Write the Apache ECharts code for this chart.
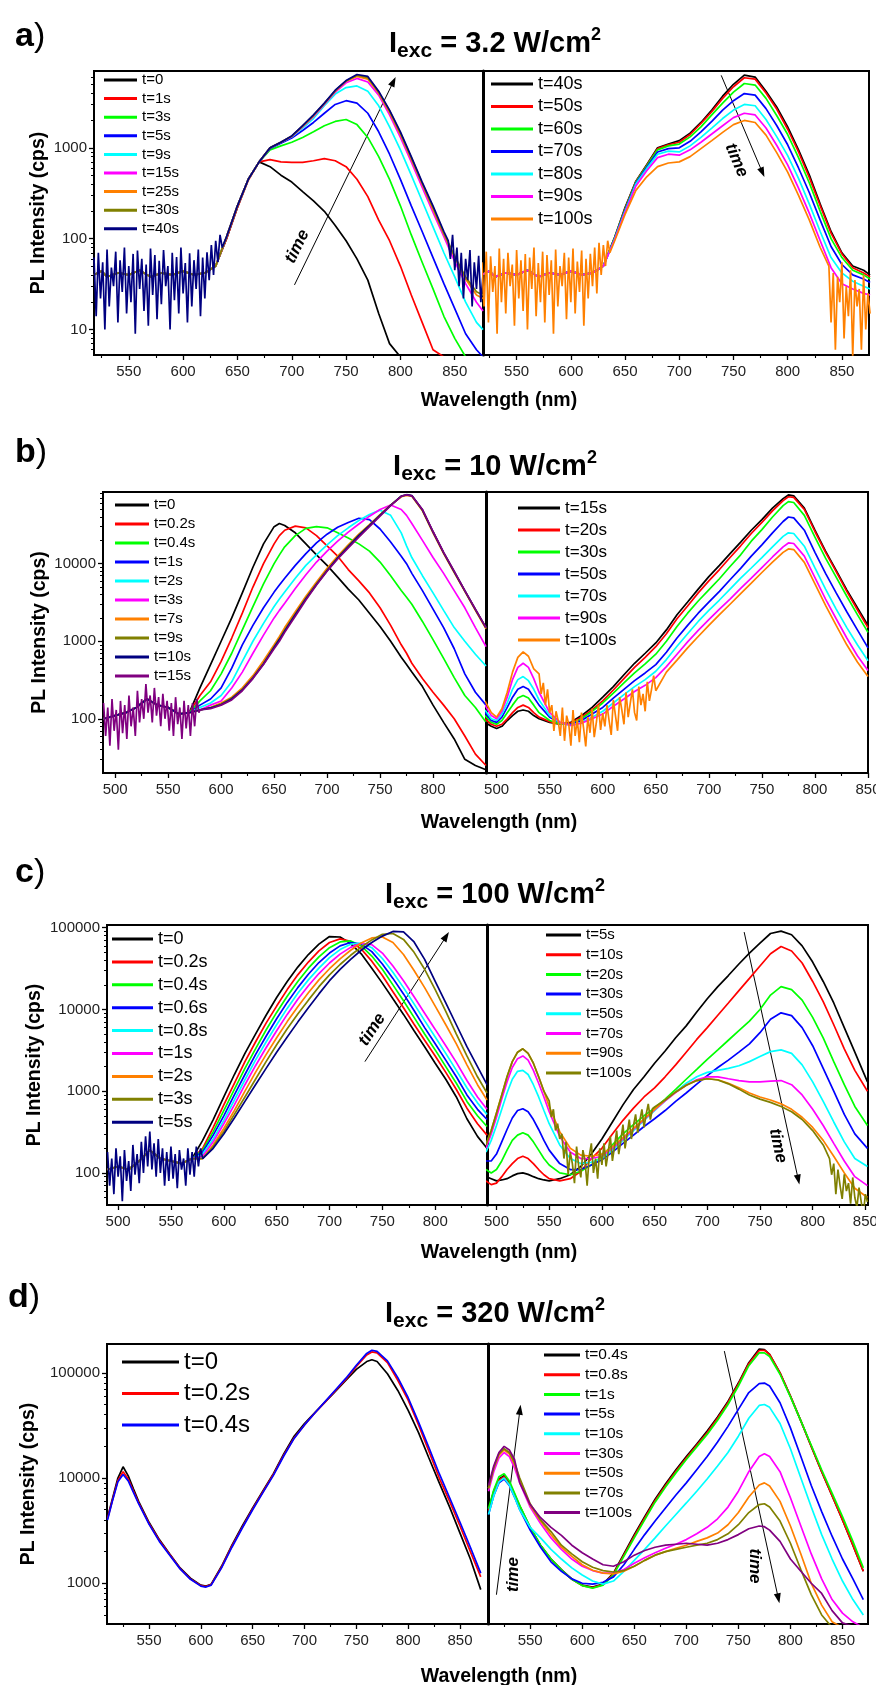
<!DOCTYPE html>
<html>
<head>
<meta charset="utf-8">
<script src="https://cdn.jsdelivr.net/npm/echarts@6/dist/echarts.min.js"></script>
<style>html,body{margin:0;padding:0;background:#fff}#chart{width:876px;height:1685px}</style>
</head>
<body>
<div id="chart"></div>
<script>
// ------------------------------------------------------------------ DATA
// tick labels (nm)
const xTicks550 = [550, 600, 650, 700, 750, 800, 850];
const xTicks500L = [500, 550, 600, 650, 700, 750, 800];
const xTicks500R = [500, 550, 600, 650, 700, 750, 800, 850];
const excIntensity = ['3.2', '10', '100', '320'];

// ---- panel a (3.2 W/cm2)
const waveA = [518,525,530,540,550,560,570,580,590,600,610,620,630,640,650,660,670,680,690,700,710,720,730,740,750,760,770,780,790,800,810,820,830,840,850,860,870,876];
const baseA = [40,44,38,42,40,45,38,42,40,44,40,42,50];
const aL_t0  = [...baseA, 100,220,450,700,620,500,420,330,260,200, 140,95,60,35,15,7,5,5,5,5, 5,5,5,5,5];
const aL_t1  = [...baseA, 100,220,440,700,740,700,690,690,720,760, 720,620,450,290,160,95,50,24,12,6, 5,5,5,5,5];
const aL_t3  = [...baseA, 105,230,450,700,950,1050,1150,1300,1500,1750, 1950,2050,1800,1300,800,450,230,110,55,28, 14,8,5,5,5];
const aL_t5  = [...baseA, 105,230,450,700,980,1120,1280,1550,1900,2400, 3000,3300,3100,2400,1500,850,450,230,120,62, 32,17,9,6,5];
const aL_t9  = [...baseA, 105,230,450,700,1000,1150,1320,1650,2100,2900, 3900,4600,4800,4200,2900,1700,950,500,260,135, 70,38,20,12,10];
const aL_t15 = [...baseA, 105,230,450,700,1000,1150,1330,1700,2200,3000, 4100,5200,5800,5300,3800,2300,1300,700,370,195, 105,56,32,20,16];
const aL_t25 = [...baseA, 105,230,450,700,1000,1150,1340,1720,2250,3050, 4200,5400,6100,5700,4000,2450,1400,750,400,210, 112,62,36,24,22];
const aL_t30 = [...baseA, 105,230,450,700,1000,1150,1345,1740,2280,3080, 4250,5450,6300,5900,4100,2550,1450,780,410,220, 115,64,38,26,24];
const aL_t40 = [...baseA, 105,230,450,700,1000,1150,1350,1750,2300,3100, 4300,5500,6400,6100,4200,2600,1500,800,420,230, 120,65,42,32,30];
const aR_t40  = [...baseA, 100,220,430,650,1000,1100,1200,1450,1900,2600, 3700,5000,6300,6000,4200,2800,1700,950,500,240, 120,70,50,45,40];
const aR_t50  = [...baseA, 100,215,425,640,980,1080,1150,1400,1850,2500, 3500,4700,5900,5700,4000,2650,1600,900,470,230, 115,68,48,42,38];
const aR_t60  = [...baseA, 100,210,420,630,950,1050,1100,1320,1700,2300, 3100,4100,5100,4900,3500,2250,1400,780,410,200, 100,62,45,40,36];
const aR_t70  = [...baseA, 98,205,410,610,900,980,1000,1180,1500,1950, 2600,3300,3950,3800,2700,1750,1080,600,320,160, 82,52,40,36,33];
const aR_t80  = [...baseA, 96,200,400,590,850,920,900,1050,1300,1650, 2100,2600,3000,2900,2050,1320,820,460,240,120, 62,42,34,30,28];
const aR_t90  = [...baseA, 95,195,380,560,780,850,830,950,1150,1420, 1750,2150,2400,2300,1650,1060,650,360,190,95, 48,32,28,25,24];
const aR_t100 = [...baseA, 92,185,340,480,620,680,700,800,980,1200, 1480,1800,2000,1900,1380,880,540,300,160,80, 40,25,22,20,20];
// noisy stretches
const noiseWaveA = [518,520,522,524,526,528,530,532,534,536,538,540,542,544,546,548,550,552,554,556,558,560,562,564,566,568,570,572,574,576,578,580,582,584,586,588,590,592,594,596,598,600,602,604,606,608,610,612,614,616,618,620,622,624,626,628,630,632,634,636];
const noiseAL_t40 = [62,14,70,22,55,10,76,18,48,30, 72,12,58,26,80,15,50,20,68,9, 74,28,60,16,52,11,78,24,66,13, 57,19,75,30,50,10,70,21,63,15, 80,25,54,12,69,18,58,28,76,14, 62,22,71,35,85,40,95,55,110,80];
const noiseAR_t100 = [55,18,72,12,64,26,50,9,78,20, 60,15,70,30,52,11,75,22,58,16, 68,10,62,28,80,14,54,20,72,12, 66,24,58,9,76,18,50,30,70,13, 62,20,78,15,56,26,74,11,60,22, 68,30,80,25,90,40,85,50,95,70];
const tailWaveAL = [844,846,848,850,852,854,856,858,860,862,864,866,868,870,872,874,876];
const tailAL_t40 = [95,60,110,45,80,30,70,22,60,35,75,18,55,28,65,20,40];
const tailWaveAR = [838,840,842,844,846,848,850,852,854,856,858,860,862,864,866,868,870,872,874,876];
const tailAR_t100 = [50,12,42,6,38,20,55,8,30,14,45,5,35,18,28,6,40,10,25,15];

// ---- panel b (10 W/cm2)
const waveBL = [489,500,510,520,530,540,550,560,570,580,590,600,610,620,630,640,650,655,660,670,680,690,700,710,720,730,740,750,760,770,775,780,790,800,810,820,830,840,850];
const baseBL = [100,110,120,140,180,150,140,115,120];
const bL_t0   = [...baseBL, 250,500,1000,2000,4200,9000,18000,30000,33000,31000, 25000,18000,13000,9500,6700,4700,3400,2300,1550,1000, 620,500,400,260,150,90,55,30,25,22];
const bL_t02  = [...baseBL, 200,300,550,1100,2300,5000,10000,18000,23000,27000, 30500,29000,23000,17000,12500,8400,6000,4200,2700,1600, 900,700,520,330,220,150,100,60,35,25];
const bL_t04  = [...baseBL, 170,230,380,700,1400,2800,5500,10000,13000,16500, 23000,28500,30000,29000,25000,21500,18000,14500,10500,7000, 4500,3700,3000,1800,1050,600,340,200,140,90];
const bL_t1   = [...baseBL, 150,180,250,450,900,1600,2700,4300,5300,6500, 9500,13500,18500,24000,29500,34000,38500,37000,28000,19000, 12500,10000,7500,4500,2600,1500,800,380,220,150];
const bL_t2   = [...baseBL, 140,160,200,300,550,1000,1700,2800,3500,4300, 6500,9500,13000,17500,23000,29000,36000,43000,49000,42000, 25000,17000,12000,7000,4200,2500,1500,1000,680,480];
const bL_t3   = [...baseBL, 130,150,170,250,400,700,1200,2000,2500,3100, 4800,7200,10500,14500,19500,25500,32500,41000,50000,57000, 50000,42000,33000,20000,12000,7500,4500,2700,1500,850];
const bL_t7   = [...baseBL, 130,140,160,190,250,360,560,900,1150,1500, 2400,3800,5800,8700,12500,17500,24000,32000,43000,57000, 73000,76000,74000,48000,25000,13500,7700,4400,2500,1450];
const bL_t9   = [...baseBL, 130,140,155,185,240,340,520,850,1080,1400, 2250,3600,5500,8300,12000,17000,23500,31500,42500,57000, 74000,77000,75000,49000,25500,13800,7800,4450,2550,1480];
const bL_t10  = [...baseBL, 130,138,152,180,235,335,510,830,1050,1350, 2200,3500,5400,8100,11800,16500,23000,31000,42000,56500, 74500,77500,75500,49500,25800,13900,7900,4500,2580,1500];
const bL_t15  = [...baseBL, 130,135,150,175,230,330,500,800,1000,1300, 2100,3400,5300,8000,11500,16000,22000,30000,41000,56000, 74000,77000,75000,50000,26000,14000,8000,4500,2600,1500];
const noiseWaveB = [489,491,493,495,497,499,501,503,505,507,509,511,513,515,517,519,521,523,525,527,529,531,533,535,537,539,541,543,545,547,549,551,553,555,557,559,561,563,565,567,569,571,573,575,577,579];
const noiseBL_t15 = [160,60,140,45,180,70,130,40,170,65, 150,55,200,80,140,60,230,90,180,100, 280,120,200,90,250,110,190,80,210,100, 170,70,160,60,190,85,140,55,170,75, 150,60,160,80,180,120];
const waveBR = [489,495,500,505,510,515,520,525,530,535,540,550,560,570,580,590,600,610,620,630,640,650,660,670,680,690,700,710,720,730,740,750,760,770,775,780,790,800,810,820,830,840,850];
const bR_t15  = [90,80,75,80,95,110,125,130,125,110,100, 90,85,90,110,140,190,260,370,520,700, 950,1400,2200,3200,4700,6800,9500,13500,19000,27000, 37000,52000,69000, 77000, 75000,52000,27000,14500,8200,4600,2700,1600];
const bR_t20  = [100,85,80,85,100,120,140,150,140,120,105, 92,85,88,105,130,170,235,330,460,620, 850,1250,1950,2850,4200,6000,8400,12000,17000,24500, 34000,48000,65000, 73000, 71500,50000,26000,14000,7900,4400,2550,1500];
const bR_t30  = [110,90,85,95,120,150,185,200,185,150,120, 95,85,85,100,125,160,215,290,390,510, 680,1000,1550,2300,3300,4600,6400,9200,13000,19500, 27500,40000,56000, 63000, 61500,42000,22000,11800,6700,3800,2200,1300];
const bR_t50  = [120,95,90,105,140,190,240,260,240,190,150, 105,88,85,95,115,140,185,240,310,390, 500,720,1100,1600,2300,3200,4400,6200,8700,12500, 17500,25000,35000, 40000, 39000,27000,14000,7500,4200,2400,1400,820];
const bR_t70  = [130,100,95,115,160,240,320,350,310,240,175, 110,88,82,90,105,125,160,205,260,320, 410,580,860,1250,1800,2500,3400,4700,6500,8800, 12000,16500,22500, 25000, 24500,16800,8800,4700,2600,1500,900,560];
const bR_t90  = [150,110,100,125,190,320,460,520,460,330,220, 120,90,82,88,100,115,145,180,225,270, 340,470,680,980,1380,1900,2600,3500,4800,6500, 8900,12200,16500, 18500, 18200,12500,6600,3500,1950,1100,650,420];
const bR_t100 = [170,120,105,135,220,400,620,730,640,440,280, 140,95,82,86,95,110,135,165,200,240, 290,400,570,820,1150,1600,2200,3000,4100,5600, 7700,10500,14000, 15500, 15200,10400,5500,2900,1600,900,540,350];
const noiseWaveBR = [540,542,544,546,548,550,552,554,556,558,560,562,564,566,568,570,572,574,576,578,580,582,584,586,588,590,592,594,596,598,600,602,604,606,608,610,612,614,616,618,620,622,624,626,628,630,632,634,636,638,640,642,644,646,648,650];
const noiseBR_t100 = [380,210,290,150,240,120, 150,70,125,95,60,140,52,110,85,45, 130,60,98,50,120,75,44,105,66,135, 58,90,150,72,118, 80,150,95,62,175,110,70,190,130,85, 220,105,160,240,120,95,260,150,210,125, 300,170,240,360,230];

// ---- panel c (100 W/cm2)
const waveCL = [490,500,510,520,530,540,550,560,570,580,590,600,610,620,630,640,650,660,670,680,690,700,710,720,730,740,750,760,770,780,790,800,810,820,830,840,849];
const baseCL = [110,120,110,140,190,150,140,130,150];
const cL_t0  = [...baseCL, 250,450,850,1600,2900,5000,8500,14000,22000,33000, 47000,63000,78000,77000,64000,48000,32000,21000,13500,8700, 5500,3500,2200,1400,850,460,280,200];
const cL_t02 = [...baseCL, 200,360,680,1250,2300,4000,6800,11000,17500,26500, 38000,52000,66000,73000,68000,55000,39000,26000,16500,10500, 6600,4200,2700,1700,1050,620,400,290];
const cL_t04 = [...baseCL, 190,320,580,1050,1900,3300,5600,9200,14500,22000, 32000,44000,57000,67000,69000,60000,45000,31000,20000,12800, 8000,5000,3200,2000,1250,750,500,370];
const cL_t06 = [...baseCL, 180,290,500,900,1600,2800,4700,7700,12200,18500, 27000,37500,49000,60000,66000,63000,51000,36000,24000,15500, 9700,6000,3800,2400,1500,900,600,450];
const cL_t08 = [...baseCL, 170,260,440,780,1380,2400,4000,6500,10300,15800, 23000,32000,43000,54000,63000,65000,57000,42000,28500,18500, 11700,7300,4600,2900,1800,1100,720,520];
const cL_t1  = [...baseCL, 160,240,400,680,1200,2050,3400,5500,8700,13300, 19500,27500,37000,47500,57500,64500,62000,49000,34000,22500, 14300,9000,5700,3600,2250,1350,850,600];
const cL_t2  = [...baseCL, 150,220,350,580,1000,1700,2800,4500,7100,10800, 16000,23000,31500,41500,53000,65000,75000,77000,66000,47000, 30000,18500,11000,6500,3800,2100,1200,780];
const cL_t3  = [...baseCL, 150,210,320,520,850,1400,2300,3700,5800,8800, 13000,19000,26500,35500,46000,58000,71000,83000,85000,72000, 50000,31000,17500,9500,5000,2700,1500,950];
const cL_t5  = [...baseCL, 150,200,300,470,750,1200,1900,3000,4600,7000, 10500,15500,22500,31000,41000,53000,66000,79000,90000,89000, 67000,41000,22000,12000,6500,3500,2000,1200];
const noiseWaveC = [490,492,494,496,498,500,502,504,506,508,510,512,514,516,518,520,522,524,526,528,530,532,534,536,538,540,542,544,546,548,550,552,554,556,558,560,562,564,566,568,570,572,574,576,578];
const noiseCL_t5 = [180,70,150,55,200,90,160,45,190,80, 140,60,220,95,170,75,240,100,280,120, 320,110,230,90,260,100,200,70,180,80, 210,85,170,65,190,110,150,70,200,95, 180,90,210,120,200];
const waveCR = [490,495,500,505,510,515,520,525,530,535,540,545,550,560,570,580,590,600,610,620,630,640,650,660,670,680,690,700,710,720,730,740,750,760,770,780,790,800,810,820,830,840,852];
const cR_t5   = [90,85,80,82,85,92,98,100,96,90,85,82,80, 85,95,120,170,260,420,680,1050,1500,2200, 3100,4500,6300,9300,13500,19000,26000,36000,49000,65000, 85000,91000,82000,60000,38000,22000,12000,6000,3000, 1300];
const cR_t10  = [80,72,75,90,110,130,150,160,150,130,110,95,85, 80,85,105,150,200,300,440,620,850,1100, 1500,2100,3000,4300,6000,8500,12000,17000,24000,34000, 48000,59000,52000,37000,22000,12500,6500,3300,1800, 1000];
const cR_t20  = [110,100,110,140,190,250,290,310,290,240,190,150,125, 100,95,105,125,160,220,300,390,500,620, 800,1050,1400,1850,2450,3200,4200,5500,7200,10000, 15000,19000,17500,13000,8000,4500,2300,1200,650, 380];
const cR_t30  = [140,140,170,240,340,470,580,610,560,450,340,250,190, 130,110,110,125,145,180,230,290,370,460, 580,750,950,1220,1550,1950,2400,3000,3800,5200, 7600,9100,8400,6000,3600,1900,1000,520,300, 200];
const cR_t50  = [180,250,380,600,950,1400,1750,1800,1600,1200,850,580,400, 220,150,130,135,150,190,250,330,440,580, 760,980,1250,1500,1700,1800,1900,2050,2300,2650, 3050,3200,2900,2100,1300,750,420,240,150, 120];
const cR_t70  = [200,300,480,800,1300,1950,2500,2700,2400,1800,1250,850,560, 280,180,150,150,160,200,260,340,450,590, 760,960,1180,1380,1500,1500,1420,1350,1300,1300, 1330,1350,1200,900,600,380,230,140,90, 70];
const cR_t90  = [220,330,540,900,1500,2300,3000,3300,2900,2200,1500,1000,650, 320,200,165,160,170,210,270,350,460,600, 780,980,1180,1350,1420,1380,1250,1100,950,850, 780,700,600,480,360,250,160,100,65, 50];
const cR_t100 = [220,330,540,900,1500,2300,3000,3300,2900,2200,1500,1000,650, 320,200,165,160,170,210,270,350,460,600, 780,980,1180,1350,1420,1370,1230,1060,900,800, 730,650,560,450,330,220,130,80,55, 45];
const noiseWaveCR = [550,552,554,556,558,560,562,564,566,568,570,572,574,576,578,580,582,584,586,588,590,592,594,596,598,600,602,604,606,608,610,612,614,616,618,620,622,624,626,628,630,632,634,636,638,640,642,644,646,648,650];
const noiseCR_t100 = [760,480,600,330,400,260, 300,150,240,95,180,130,75,210,120,88, 190,140,70,160,230,100,150,85,200,125, 230,120,180,280,140,210,330,170,250,390, 200,300,450,260,380,520,310,440,600,360, 520,700,450,610,640];
const tailWaveCR = [816,818,820,822,824,826,828,830,832,834,836,838,840,842,844,846,848,850,852];
const tailCR_t100 = [150,95,130,55,110,70,48,96,60,75,42,88,50,38,66,45,30,55,44];

// ---- panel d (320 W/cm2)
const waveDL = [510,515,520,525,530,535,540,550,560,570,580,590,600,605,610,620,630,640,650,660,670,680,690,700,710,720,730,740,750,760,765,770,780,790,800,810,820,830,840,850,860,870];
const dL_t0  = [4200,6500,10000,12800,10500,7900,6000, 3800,2600,1900,1400,1120,960, 940, 980,1450,2300,3500,5200,7600,11000,17000,25000,33000,42000,53000,67000,85000,108000,128000, 133000, 128000,98000,68000,44000,27000,15500,9000,5300,3000,1700,870];
const dL_t02 = [4100,6300,9500,11500,9800,7500,5800, 3700,2550,1880,1380,1100,950, 930, 970,1420,2250,3400,5100,7400,10800,16500,24000,32000,41500,53000,68000,87000,115000,148000, 158000, 155000,125000,85000,55000,32000,18000,10000,6000,3500,2000,1150];
const dL_t04 = [4000,6200,9200,10800,9400,7300,5700, 3650,2500,1850,1370,1090,940, 920, 960,1400,2200,3350,5000,7300,10600,16200,23800,32000,41500,53500,69000,89000,118000,153000, 164000, 160000,130000,90000,58000,34000,19500,11000,6500,3800,2200,1250];
const waveDR = [510,515,520,525,530,535,540,550,560,570,580,590,600,610,620,630,640,650,660,670,680,690,700,710,720,730,740,750,760,770,775,780,790,800,810,820,830,840,850,860,870];
const dR_t04  = [5000,7500,9800,10500,9000,7000,5400, 3400,2300,1700,1350,1100,960,920,980,1250,1900, 2900,4300,6300,8800,12000,16000,21000,28000,38000,53500, 80000,125000,168000, 166000, 150000,100000,60000,35000,20000,11500,6800,4000,2300,1300];
const dR_t08  = [4900,7300,9600,10300,8800,6900,5300, 3350,2280,1690,1340,1090,950,910,970,1230,1850, 2800,4150,6100,8500,11600,15500,20500,27000,37000,52000, 78000,122000,163000, 164000, 150000,100000,60000,35000,20000,11500,6800,4000,2300,1300];
const dR_t1   = [5100,7700,10300,11000,9400,7200,5500, 3400,2300,1700,1340,1090,950,900,960,1200,1800, 2700,4000,5900,8200,11200,15000,19800,26000,35500,50000, 75000,117000,155000, 155000, 143000,97000,59000,35000,20500,12000,7200,4300,2500,1400];
const dR_t5   = [4500,6800,9000,9800,8500,6600,5000, 3200,2200,1600,1300,1100,1000,980,1020,1150,1500, 2100,2900,3900,5200,6900,9000,12000,16000,22000,31000, 45000,65000,79000, 80000, 75000,52000,30000,16000,8500,4800,2800,1700,1100,700];
const dR_t10  = [4500,6800,9200,10000,8600,6600,5000, 3400,2700,2100,1700,1400,1200,1050,980,1050,1300, 1650,2100,2700,3500,4500,5800,7500,9800,13000,17500, 25000,37000,49000, 50000, 47000,33000,19000,10000,5300,2900,1700,1050,700,500];
const dR_t30  = [7500,11500,15500,17500,16000,12500,9000, 5300,3700,2700,2100,1700,1450,1320,1250,1250,1350, 1550,1750,1950,2150,2350,2600,2950,3400,4100,5300, 7500,11500,16000, 17000, 16000,11500,6500,3500,1900,1100,700,520,430,380];
const dR_t50  = [8000,12500,16500,18500,17000,13500,9500, 5500,3900,2900,2200,1800,1500,1330,1250,1230,1300, 1450,1650,1850,2000,2150,2300,2500,2700,3000,3600, 4700,6600,8600, 9000, 8400,6000,3500,1900,1000,620,430,380,330,300];
const dR_t70  = [8000,12500,17000,19000,17500,14000,10000, 5700,4000,3100,2300,1900,1600,1420,1320,1280,1320, 1450,1650,1850,2000,2100,2200,2300,2400,2600,2950, 3600,4700,5600, 5700, 5300,3900,2400,1350,780,500,380,330,300,280];
const dR_t100 = [8500,13000,17500,20000,18500,15000,9000, 5600,4200,3400,2850,2300,1950,1700,1500,1450,1600, 1850,2050,2200,2300,2350,2400,2350,2300,2400,2600, 2900,3300,3500, 3450, 3200,2500,1700,1300,1000,800,550,420,390,370];

// ------------------------------------------------------------------ LAYOUT / STYLE
const FONT = '"Liberation Sans", Arial, Helvetica, sans-serif';
const COLORS = {k:'#000000', r:'#ff0000', g:'#00ff00', b:'#0000ff', c:'#00ffff', m:'#ff00ff', o:'#ff8000', ol:'#808000', n:'#000080', p:'#800080'};
const LINE_W = 1.7;

const PANELS = [
  {letter:'a', top:71,   height:284, left:94,  mid:483, right:869, ymin:5.25, ymax:7000,   yMajor:[10,100,1000],            letterX:15, letterY:37,   titleY:44,   xTitleY:401,  yTitleX:39},
  {letter:'b', top:492,  height:281, left:103, mid:486, right:868, ymin:20,   ymax:84000,  yMajor:[100,1000,10000],         letterX:15, letterY:453,  titleY:467,  xTitleY:823,  yTitleX:40},
  {letter:'c', top:925,  height:280, left:107, mid:487, right:868, ymin:40.5, ymax:108000, yMajor:[100,1000,10000,100000],  letterX:15, letterY:873,  titleY:895,  xTitleY:1253, yTitleX:35},
  {letter:'d', top:1344, height:280, left:107, mid:488, right:868, ymin:410,  ymax:188000, yMajor:[1000,10000,100000],      letterX:8,  letterY:1298, titleY:1314, xTitleY:1677, yTitleX:29}
];

const SUBPLOTS = [
  {id:'aL', panel:0, side:0, wave:waveA, xr:[518,876], majors:xTicks550, legend:{x:104,y:80,gap:18.6,fs:15,w:33},
   series:[['t=0','k',aL_t0],['t=1s','r',aL_t1],['t=3s','g',aL_t3],['t=5s','b',aL_t5],['t=9s','c',aL_t9],['t=15s','m',aL_t15],['t=25s','o',aL_t25],['t=30s','ol',aL_t30],['t=40s','n',aL_t40]],
   noise:[{index:8, wave:noiseWaveA, vals:noiseAL_t40}, {index:8, wave:tailWaveAL, vals:tailAL_t40}]},
  {id:'aR', panel:0, side:1, wave:waveA, xr:[519,875], majors:xTicks550, legend:{x:491,y:84,gap:22.5,fs:18,w:42},
   series:[['t=40s','k',aR_t40],['t=50s','r',aR_t50],['t=60s','g',aR_t60],['t=70s','b',aR_t70],['t=80s','c',aR_t80],['t=90s','m',aR_t90],['t=100s','o',aR_t100]],
   noise:[{index:6, wave:noiseWaveA, vals:noiseAR_t100}, {index:6, wave:tailWaveAR, vals:tailAR_t100}]},
  {id:'bL', panel:1, side:0, wave:waveBL, xr:[488.5,850], majors:xTicks500L, legend:{x:115,y:505,gap:19,fs:15,w:34},
   series:[['t=0','k',bL_t0],['t=0.2s','r',bL_t02],['t=0.4s','g',bL_t04],['t=1s','b',bL_t1],['t=2s','c',bL_t2],['t=3s','m',bL_t3],['t=7s','o',bL_t7],['t=9s','ol',bL_t9],['t=10s','n',bL_t10],['t=15s','p',bL_t15]],
   noise:[{index:9, wave:noiseWaveB, vals:noiseBL_t15}]},
  {id:'bR', panel:1, side:1, wave:waveBR, xr:[490,850], majors:xTicks500R, legend:{x:518,y:508,gap:22,fs:17,w:42},
   series:[['t=15s','k',bR_t15],['t=20s','r',bR_t20],['t=30s','g',bR_t30],['t=50s','b',bR_t50],['t=70s','c',bR_t70],['t=90s','m',bR_t90],['t=100s','o',bR_t100]],
   noise:[{index:6, wave:noiseWaveBR, vals:noiseBR_t100}]},
  {id:'cL', panel:2, side:0, wave:waveCL, xr:[489.5,849], majors:xTicks500L, legend:{x:112,y:939,gap:22.9,fs:18,w:41},
   series:[['t=0','k',cL_t0],['t=0.2s','r',cL_t02],['t=0.4s','g',cL_t04],['t=0.6s','b',cL_t06],['t=0.8s','c',cL_t08],['t=1s','m',cL_t1],['t=2s','o',cL_t2],['t=3s','ol',cL_t3],['t=5s','n',cL_t5]],
   noise:[{index:8, wave:noiseWaveC, vals:noiseCL_t5}]},
  {id:'cR', panel:2, side:1, wave:waveCR, xr:[491,852.5], majors:xTicks500R, legend:{x:546,y:935,gap:19.7,fs:15,w:35},
   series:[['t=5s','k',cR_t5],['t=10s','r',cR_t10],['t=20s','g',cR_t20],['t=30s','b',cR_t30],['t=50s','c',cR_t50],['t=70s','m',cR_t70],['t=90s','o',cR_t90],['t=100s','ol',cR_t100]],
   noise:[{index:7, wave:noiseWaveCR, vals:noiseCR_t100}, {index:7, wave:tailWaveCR, vals:tailCR_t100}]},
  {id:'dL', panel:3, side:0, wave:waveDL, xr:[509.5,877], majors:xTicks550, legend:{x:122,y:1362,gap:31.5,fs:24,w:57},
   series:[['t=0','k',dL_t0],['t=0.2s','r',dL_t02],['t=0.4s','b',dL_t04]]},
  {id:'dR', panel:3, side:1, wave:waveDR, xr:[509.5,874.5], majors:xTicks550, legend:{x:544,y:1355,gap:19.7,fs:15.5,w:36},
   series:[['t=0.4s','k',dR_t04],['t=0.8s','r',dR_t08],['t=1s','g',dR_t1],['t=5s','b',dR_t5],['t=10s','c',dR_t10],['t=30s','m',dR_t30],['t=50s','o',dR_t50],['t=70s','ol',dR_t70],['t=100s','p',dR_t100]]}
];

// "time" arrows, in data coordinates of the sub-plot
const ARROWS = [
  {sp:'aL', from:[702.5,31],    to:[795.6,6000],  text:[705,82],     rot:64},
  {sp:'aR', from:[738.7,6270],  to:[778.5,477],   text:[752.7,730],  rot:-67},
  {sp:'cL', from:[733.5,2300],  to:[813,88400],   text:[740.4,5670], rot:57},
  {sp:'cR', from:[735,88400],   to:[787.4,72],    text:[767,215],    rot:-78},
  {sp:'dR', from:[517.6,778],   to:[540.8,49700], text:[533.8,1210], rot:90},
  {sp:'dR', from:[736.5,161000],to:[789.4,646],   text:[766,1456],   rot:-90}
];

// ------------------------------------------------------------------ BUILD
const chart = echarts.init(document.getElementById('chart'), null, {renderer:'canvas', width:876, height:1685});
const option = {animation:false, backgroundColor:'#ffffff', textStyle:{fontFamily:FONT},
  grid:[], xAxis:[], yAxis:[], series:[], legend:[]};
const firstSeriesOf = {};

function minorTicks(arr, lo, hi){
  const out = [];
  arr.forEach(v => { [v - 25, v + 25].forEach(m => { if (m > lo + 2 && m < hi - 2 && out.indexOf(m) < 0 && arr.indexOf(m) < 0) out.push(m); }); });
  return out;
}
function logMinor(lo, hi){
  const out = [];
  for (let e = -1; e <= 6; e++) for (let k = 2; k <= 9; k++) { const v = k * Math.pow(10, e); if (v > lo && v < hi) out.push(Math.log10(v)); }
  return out;
}

SUBPLOTS.forEach((sp, gi) => {
  const P = PANELS[sp.panel];
  const left = sp.side === 0 ? P.left : P.mid;
  const width = sp.side === 0 ? P.mid - P.left : P.right - P.mid;
  option.grid.push({left:left, top:P.top, width:width, height:P.height, show:true, borderColor:'#000', borderWidth:2,
                    backgroundColor:'transparent', containLabel:false, outerBoundsMode:'none'});
  const xi = option.xAxis.length;
  option.xAxis.push({gridIndex:gi, type:'value', min:sp.xr[0], max:sp.xr[1], position:'bottom',
    axisLine:{show:true, onZero:false, lineStyle:{color:'#000', width:2}},
    axisTick:{show:true, length:5, customValues:sp.majors, lineStyle:{color:'#000', width:1.3}},
    axisLabel:{show:true, customValues:sp.majors, margin:9, fontSize:15, color:'#222', fontFamily:FONT},
    splitLine:{show:false}});
  option.xAxis.push({gridIndex:gi, type:'value', min:sp.xr[0], max:sp.xr[1], position:'bottom',
    axisLine:{show:false}, axisTick:{show:true, length:3, customValues:minorTicks(sp.majors, sp.xr[0], sp.xr[1]), lineStyle:{color:'#000', width:1.1}},
    axisLabel:{show:false}, splitLine:{show:false}});
  const yi = option.yAxis.length;
  option.yAxis.push({gridIndex:gi, type:'log', logBase:10, min:P.ymin, max:P.ymax, position:'left',
    axisLine:{show:true, onZero:false, lineStyle:{color:'#000', width: sp.side === 0 ? 2 : 3}},
    axisTick:{show:false}, axisLabel:{show:false}, splitLine:{show:false}});
  if (sp.side === 0) {
    const lmin = Math.log10(P.ymin), lmax = Math.log10(P.ymax);
    const majors = P.yMajor.map(v => Math.log10(v));
    option.yAxis.push({gridIndex:gi, type:'value', min:lmin, max:lmax, position:'left',
      axisLine:{show:false}, axisTick:{show:true, length:5, customValues:majors, lineStyle:{color:'#000', width:1.3}},
      axisLabel:{show:true, customValues:majors, margin:7, fontSize:15, color:'#222', fontFamily:FONT,
        formatter: v => String(Math.round(Math.pow(10, v)))},
      splitLine:{show:false}});
    option.yAxis.push({gridIndex:gi, type:'value', min:lmin, max:lmax, position:'left',
      axisLine:{show:false}, axisTick:{show:true, length:3, customValues:logMinor(P.ymin, P.ymax), lineStyle:{color:'#000', width:1}},
      axisLabel:{show:false}, splitLine:{show:false}});
  }
  const names = [];
  sp.series.forEach((s, j) => {
    const [label, ck, vals] = s;
    if (vals.length !== sp.wave.length) throw new Error('length mismatch ' + sp.id + ' ' + label + ': ' + vals.length + ' vs ' + sp.wave.length);
    const segs = (sp.noise || []).filter(n => n.index === j);
    let data = [];
    segs.forEach(n => {
      if (n.wave.length !== n.vals.length) throw new Error('noise length mismatch ' + sp.id + ' ' + n.wave.length + ' vs ' + n.vals.length);
      n.wave.forEach((w, i) => data.push([w, n.vals[i]]));
    });
    sp.wave.forEach((w, i) => {
      const covered = segs.some(n => w >= n.wave[0] && w <= n.wave[n.wave.length - 1]);
      if (!covered) data.push([w, vals[i]]);
    });
    data.sort((p, q) => p[0] - q[0]);
    const name = sp.id + '|' + label;
    names.push(name);
    if (j === 0) firstSeriesOf[sp.id] = option.series.length;
    option.series.push({type:'line', name:name, xAxisIndex:xi, yAxisIndex:yi, data:data, showSymbol:false, symbol:'none',
      color:COLORS[ck], lineStyle:{color:COLORS[ck], width:LINE_W}, itemStyle:{color:COLORS[ck]}, silent:true, clip:true, z:2});
  });
  const L = sp.legend, lh = Math.round(L.fs + 2);
  option.legend.push({show:true, orient:'vertical', left:L.x, top:L.y - lh / 2, padding:0, itemWidth:L.w, itemHeight:3,
    itemGap:L.gap - lh, icon:'rect', selectedMode:false, data:names,
    formatter: n => n.split('|')[1],
    textStyle:{fontSize:L.fs, lineHeight:lh, color:'#000', fontFamily:FONT}});
});

chart.setOption(option);

// ---- texts and arrows
const g = [];
PANELS.forEach((P, i) => {
  g.push({type:'text', x:P.letterX, y:P.letterY, silent:true, style:{
    text:'{l|' + P.letter + '}{r|)}', align:'left', verticalAlign:'middle', textAlign:'left', textVerticalAlign:'middle', fill:'#000',
    rich:{l:{fontSize:34, fontWeight:'bold', fontFamily:FONT, fill:'#000'}, r:{fontSize:34, fontWeight:'normal', fontFamily:FONT, fill:'#000'}}}});
  g.push({type:'text', x:495, y:P.titleY, silent:true, style:{
    text:'{m|I}{s|exc}{m| = ' + excIntensity[i] + ' W/cm}{p|2}', align:'center', verticalAlign:'middle', textAlign:'center', textVerticalAlign:'middle', fill:'#000',
    rich:{m:{fontSize:29, fontWeight:'bold', fontFamily:FONT, lineHeight:36, fill:'#000'},
          s:{fontSize:21, fontWeight:'bold', fontFamily:FONT, lineHeight:12, verticalAlign:'bottom', fill:'#000'},
          p:{fontSize:18, fontWeight:'bold', fontFamily:FONT, lineHeight:20, verticalAlign:'top', fill:'#000'}}}});
  g.push({type:'text', x:P.yTitleX, y:P.top + P.height / 2, rotation:Math.PI / 2, silent:true, style:{
    text:'PL Intensity (cps)', fontSize:19.5, fontWeight:'bold', fontFamily:FONT, fill:'#000',
    align:'center', verticalAlign:'middle', textAlign:'center', textVerticalAlign:'middle'}});
  g.push({type:'text', x:499, y:P.xTitleY, silent:true, style:{
    text:'Wavelength (nm)', fontSize:19.5, fontWeight:'bold', fontFamily:FONT, fill:'#000',
    align:'center', verticalAlign:'middle', textAlign:'center', textVerticalAlign:'middle'}});
});
ARROWS.forEach(a => {
  const si = firstSeriesOf[a.sp];
  const p1 = chart.convertToPixel({seriesIndex:si}, a.from);
  const p2 = chart.convertToPixel({seriesIndex:si}, a.to);
  const pt = chart.convertToPixel({seriesIndex:si}, a.text);
  const dx = p2[0] - p1[0], dy = p2[1] - p1[1], len = Math.sqrt(dx * dx + dy * dy);
  const ux = dx / len, uy = dy / len, nx = -uy, ny = ux;
  const hl = 10, hw = 3.5;
  g.push({type:'line', silent:true, shape:{x1:p1[0], y1:p1[1], x2:p2[0] - ux * (hl - 2), y2:p2[1] - uy * (hl - 2)},
          style:{stroke:'#000', lineWidth:1}});
  g.push({type:'polygon', silent:true, shape:{points:[[p2[0], p2[1]],
          [p2[0] - ux * hl + nx * hw, p2[1] - uy * hl + ny * hw], [p2[0] - ux * hl - nx * hw, p2[1] - uy * hl - ny * hw]]},
          style:{fill:'#000'}});
  g.push({type:'text', x:pt[0], y:pt[1], rotation:a.rot * Math.PI / 180, silent:true, style:{
    text:'time', fontSize:17, fontWeight:'bold', fontStyle:'italic', fontFamily:FONT, fill:'#000',
    align:'center', verticalAlign:'middle', textAlign:'center', textVerticalAlign:'middle'}});
});
chart.setOption({graphic:{elements:g}});
</script>
</body>
</html>
